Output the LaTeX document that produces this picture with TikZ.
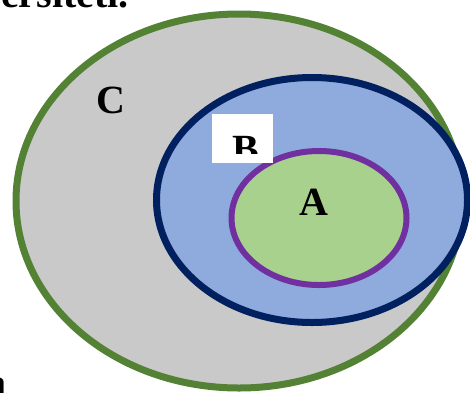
\documentclass[tikz,border=0pt]{standalone}
\usepackage{fontspec}
\setmainfont{Liberation Serif}
\usepackage{tikz}
\usetikzlibrary{
	shapes.geometric,
	positioning
}
\definecolor{setCfill}{HTML}{C9C9C9}
\definecolor{setCline}{HTML}{548235}
\definecolor{setBfill}{HTML}{8FAADC}
\definecolor{setBline}{HTML}{002060}
\definecolor{setAfill}{HTML}{A9D18E}
\definecolor{setAline}{HTML}{7030A0}
\tikzset{
	set/.style={ellipse,draw,inner sep=0pt},
	lbl/.style={inner sep=0pt,anchor=base,font=\fontsize{40}{40}\selectfont\bfseries}
}

\begin{document}
\begin{tikzpicture}[x=1pt,y=-1pt]
    \useasboundingbox (0,0) rectangle (470,392);
    \clip (0,0) rectangle (470,392);
    \draw
        node [set,fill=setCfill,draw=setCline,line width=7pt,
              minimum width=446pt,minimum height=374pt] (C) at (239,201) {}
        node [set,fill=setBfill,draw=setBline,line width=7pt,
              minimum width=311pt,minimum height=245pt] (B) at (312,200) {}
        node [set,fill=setAfill,draw=setAline,line width=6pt,
              minimum width=175pt,minimum height=134pt] (A) at (319,218) {}

		node [lbl] (cname) at (111,113) {C}
		node [lbl] (aname) at (314,215) {A}
		node [lbl,anchor=base east] (title) at (129,7) {Universiteti.}
		node [lbl,anchor=base east] (tail) at (7,396) {a}
    ;
    \fill[white] (212,114) rectangle (273,163);
    \begin{scope}
        \clip (212,114) rectangle (273,153);
        \node [lbl] (bname) at (246,162) {B};
    \end{scope}
\end{tikzpicture}
\end{document}
